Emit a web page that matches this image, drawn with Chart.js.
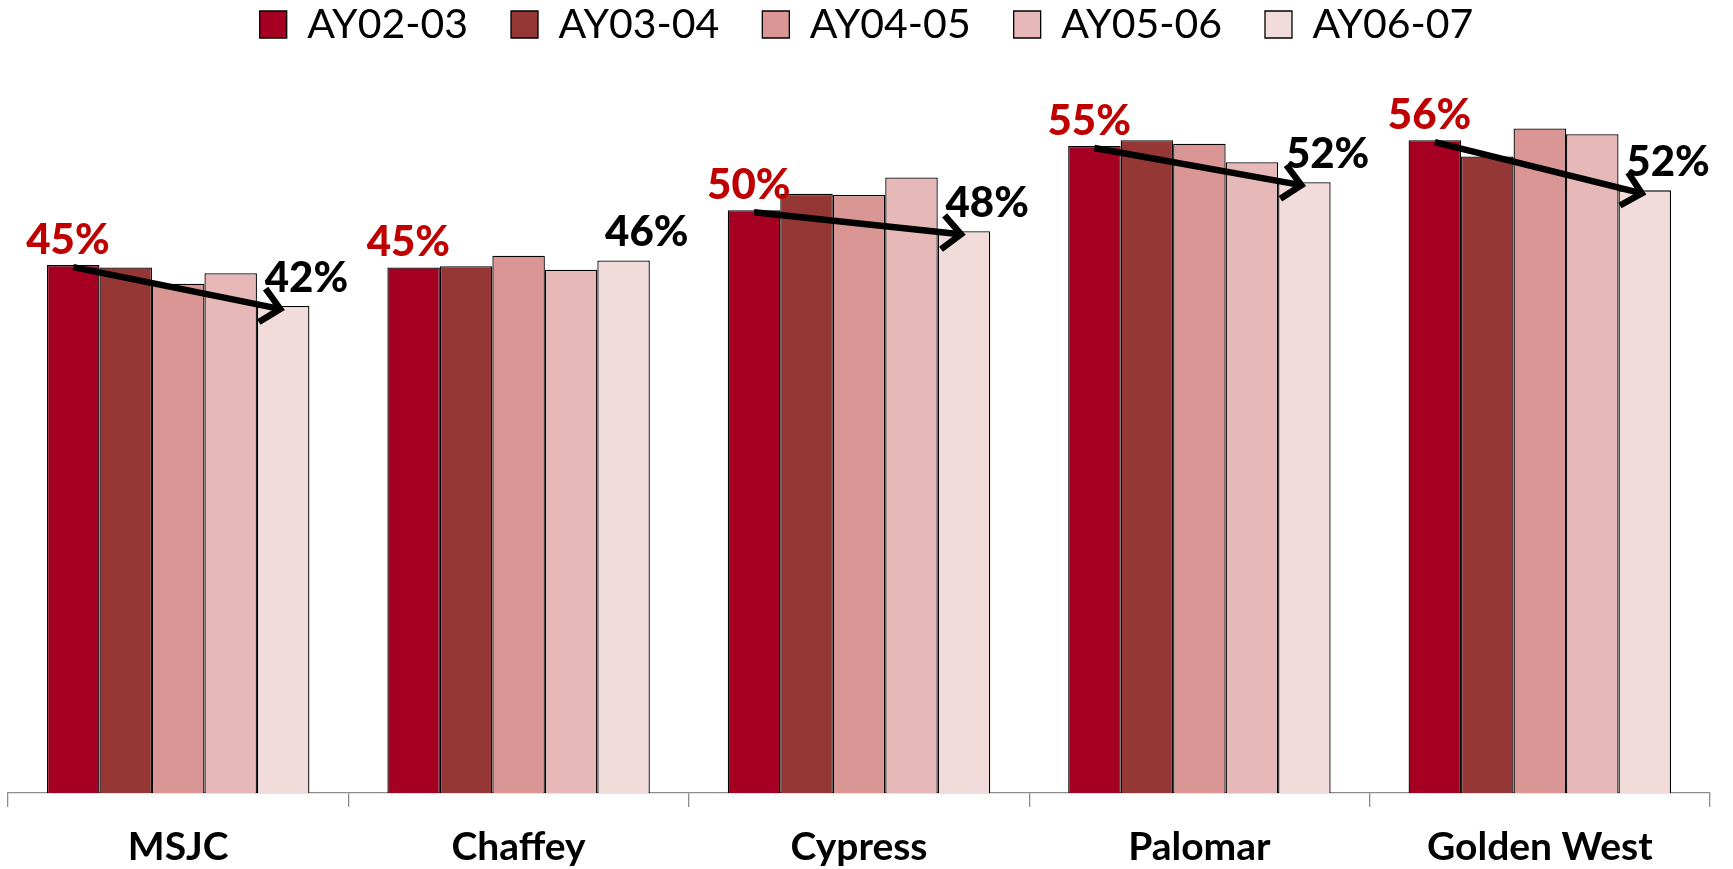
<!DOCTYPE html>
<html>
<head>
<meta charset="utf-8">
<title>Retention by college</title>
<script src="https://cdn.jsdelivr.net/npm/chart.js@4.4.1/dist/chart.umd.min.js"></script>
<style>
    html, body { margin: 0; padding: 0; background: #fff; }
    #wrap { width: 1733px; height: 869px; }
</style>
</head>
<body>
<div id="wrap"><canvas id="statsChart" width="1733" height="869"></canvas></div>
<script>
// Chart data (percent)
const colleges = ['MSJC', 'Chaffey', 'Cypress', 'Palomar', 'Golden West'];
const years = ['AY02-03', 'AY03-04', 'AY04-05', 'AY05-06', 'AY06-07'];
const ay0203 = [45.2, 45.0, 49.9, 55.4, 55.9];
const ay0304 = [45.0, 45.1, 51.3, 55.9, 54.5];
const ay0405 = [43.6, 46.0, 51.2, 55.6, 56.9];
const ay0506 = [44.5, 44.8, 52.7, 54.0, 56.4];
const ay0607 = [41.7, 45.6, 48.1, 52.3, 51.6];
const yTicks = { min: 0, max: 59.85 };

const seriesValues = [ay0203, ay0304, ay0405, ay0506, ay0607];
const barColors = ['#A50021', '#953735', '#D99694', '#E6B9B8', '#F2DCDB'];
const FONT = "Lato, 'Open Sans', sans-serif";

// first -> last year trend: labels, and an arrow where it went down
const trendPlugin = {
    id: 'trend',
    afterDatasetsDraw(chart) {
        const ctx = chart.ctx;
        const n = seriesValues.length - 1;
        const first = chart.getDatasetMeta(0).data;
        const last = chart.getDatasetMeta(n).data;
        const firstVals = chart.data.datasets[0].data;
        const lastVals = chart.data.datasets[n].data;

        ctx.save();
        first.forEach((b0, i) => {
            const b4 = last[i];

            if (lastVals[i] < firstVals[i]) {
                const x1 = b0.x, y1 = b0.y + 2;
                const x2 = b4.x - 3, y2 = b4.y + 3;
                const ang = Math.atan2(y2 - y1, x2 - x1);
                ctx.strokeStyle = '#000';
                ctx.lineWidth = 6.5;
                ctx.lineCap = 'butt';
                ctx.lineJoin = 'miter';
                ctx.beginPath();
                ctx.moveTo(x1, y1);
                ctx.lineTo(x2 - 3 * Math.cos(ang), y2 - 3 * Math.sin(ang));
                ctx.stroke();
                const len = 25, spread = 0.75;
                ctx.beginPath();
                ctx.moveTo(x2 - len * Math.cos(ang - spread), y2 - len * Math.sin(ang - spread));
                ctx.lineTo(x2, y2);
                ctx.lineTo(x2 - len * Math.cos(ang + spread), y2 - len * Math.sin(ang + spread));
                ctx.stroke();
            }

            // value labels
            ctx.font = Chart.helpers.toFont({ family: FONT, size: 42, weight: '900' }).string;
            ctx.textAlign = 'center';
            ctx.textBaseline = 'alphabetic';
            ctx.fillStyle = '#C00000';
            ctx.fillText(Math.round(firstVals[i]) + '%', b0.x - b0.width / 2 + 21, b0.y - 11);
            ctx.fillStyle = '#000';
            ctx.fillText(Math.round(lastVals[i]) + '%', b4.x + b4.width / 2 - 3, b4.y - 14);
        });
        ctx.restore();
    }
};

// keep the legend centred on the page and close to the top edge
const legendPlace = {
    id: 'legendPlace',
    beforeDraw(chart) {
        const lg = chart.legend;
        const h = lg.bottom - lg.top;
        lg.left = 0;
        lg.right = chart.width;
        lg.top = -39;
        lg.bottom = lg.top + h;
    }
};

const ctx = document.getElementById('statsChart').getContext('2d');
const statsChart = new Chart(ctx, {
    type: 'bar',
    data: {
        labels: colleges,
        datasets: years.map((y, i) => ({
            label: y,
            data: seriesValues[i],
            backgroundColor: barColors[i],
            borderColor: '#000',
            borderWidth: 1.3,
            categoryPercentage: 0.771,
            barPercentage: 1
        }))
    },
    options: {
        responsive: false,
        animation: false,
        devicePixelRatio: 1,
        layout: { padding: { left: 8, right: 23, top: 0, bottom: 0 } },
        plugins: {
            legend: {
                position: 'top',
                labels: {
                    color: '#000',
                    boxWidth: 27,
                    boxHeight: 27,
                    padding: 43,
                    font: { family: FONT, size: 41 }
                }
            },
            tooltip: { enabled: false }
        },
        scales: {
            x: {
                grid: {
                    offset: true,
                    drawOnChartArea: false,
                    drawTicks: true,
                    tickLength: 14,
                    color: '#8C8C8C',
                    lineWidth: 1.3
                },
                border: { display: true, color: '#8C8C8C', width: 1.3 },
                ticks: {
                    color: '#000',
                    padding: 21,
                    font: { family: FONT, size: 39, weight: 'bold', lineHeight: 1 }
                },
                afterFit(scale) { scale.height = 76; }
            },
            y: {
                display: false,
                min: yTicks.min,
                max: yTicks.max
            }
        }
    },
    plugins: [trendPlugin, legendPlace]
});
</script>
</body>
</html>
